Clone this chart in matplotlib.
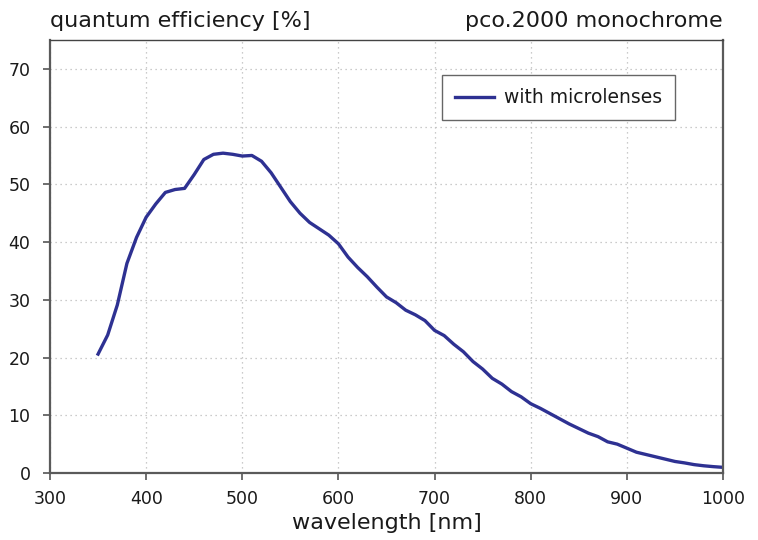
import matplotlib
matplotlib.use("Agg")
import matplotlib.pyplot as plt
import numpy as np

wavelength = list(range(350, 1001, 10))
qe = [20.6, 23.9, 29.1, 36.3, 40.8, 44.3, 46.6, 48.6, 49.1, 49.3,
      51.7, 54.3, 55.2, 55.4, 55.2, 54.9, 55.0, 54.0, 52.0, 49.5,
      47.0, 45.0, 43.4, 42.3, 41.2, 39.7, 37.4, 35.6, 34.0, 32.2,
      30.5, 29.5, 28.2, 27.4, 26.4, 24.7, 23.8, 22.3, 21.0, 19.3,
      18.0, 16.4, 15.4, 14.1, 13.2, 12.0, 11.2, 10.3, 9.4, 8.5,
      7.7, 6.9, 6.3, 5.4, 5.0, 4.3, 3.6, 3.2, 2.8, 2.4,
      2.0, 1.75, 1.45, 1.25, 1.1, 0.98]
series_label = "with microlenses"
xticks = [300, 400, 500, 600, 700, 800, 900, 1000]
yticks = [0, 10, 20, 30, 40, 50, 60, 70]

plt.rcParams['font.family'] = ['DejaVu Sans']
fig = plt.figure(figsize=(7.58, 5.40), dpi=100)
ax = fig.add_axes([50/758, 1-473/540, (723-50)/758, (473-40)/540])

ax.plot(wavelength, qe, color='#2e3192', linewidth=2.4, label=series_label)
ax.set_xlim(300, 1000)
ax.set_ylim(0, 75)
ax.set_xticks(xticks)
ax.set_yticks(yticks)
ax.tick_params(axis='both', direction='out', length=5, width=1.2, color='#555555',
               labelsize=12.5, labelcolor='#1a1a1a', pad=7)
ax.tick_params(axis='y', pad=9)
ax.grid(True, linestyle=(0, (1, 3)), color='#bbbbbb', linewidth=0.9)
for s in ['left', 'bottom', 'right']:
    ax.spines[s].set_color('#5a5a5a')
    ax.spines[s].set_linewidth(1.6)
ax.spines['top'].set_color('#444444')
ax.spines['top'].set_linewidth(1.0)

ax.set_xlabel('wavelength [nm]', fontsize=16, color='#1a1a1a', labelpad=4)
fig.text(50/758, 1-27/540, 'quantum efficiency [%]', fontsize=16, color='#1a1a1a',
         ha='left', va='baseline')
fig.text(723/758, 1-27/540, 'pco.2000 monochrome', fontsize=16, color='#1a1a1a',
         ha='right', va='baseline')

leg = ax.legend(loc='upper left', bbox_to_anchor=(0.582, 0.919),
                prop={'size': 13.5},
                frameon=True, fancybox=False, handlelength=2.1, borderpad=0.7,
                handletextpad=0.5, borderaxespad=0)
leg.get_frame().set_edgecolor('#666666')
leg.get_frame().set_linewidth(1.0)
leg.get_frame().set_alpha(1)
for t in leg.get_texts():
    t.set_color('#1a1a1a')

fig.savefig('out.png', dpi=100)
